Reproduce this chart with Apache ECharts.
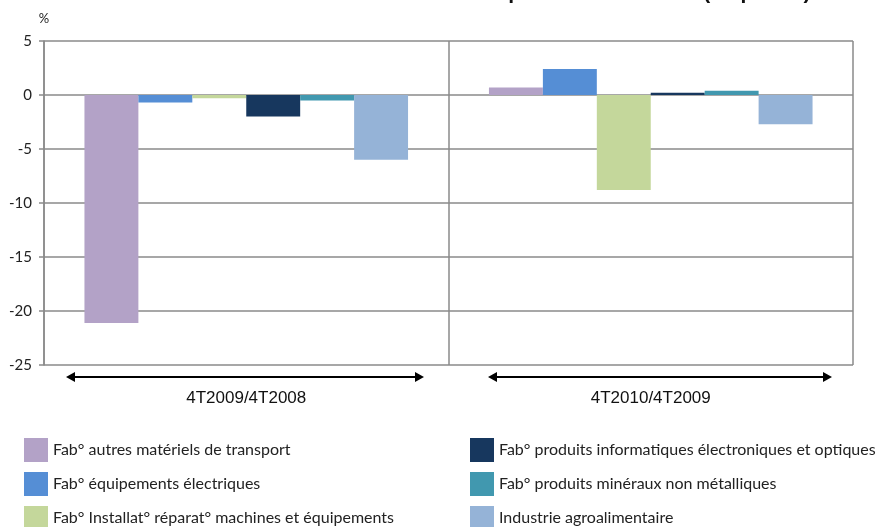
<!DOCTYPE html>
<html>
<head>
<meta charset="utf-8">
<script src="https://cdn.jsdelivr.net/npm/echarts@6/dist/echarts.min.js"></script>
<style>html,body{margin:0;padding:0;background:#fff}#c{width:881px;height:527px}</style>
</head>
<body>
<div id="c"></div>
<script>
const categories = ['4T2009/4T2008', '4T2010/4T2009'];
const seriesNames = [
  'Fab° autres matériels de transport',
  'Fab° équipements électriques',
  'Fab° Installat° réparat° machines et équipements',
  'Fab° produits informatiques électroniques et optiques',
  'Fab° produits minéraux non métalliques',
  'Industrie agroalimentaire'
];
const transport = [-21.1, 0.7];
const equipElec = [-0.7, 2.4];
const installat = [-0.3, -8.8];
const informatique = [-2.0, 0.2];
const mineraux = [-0.5, 0.4];
const agro = [-6.0, -2.7];
const colors = ['#B3A2C7', '#558ED5', '#C4D79B', '#17375E', '#4198AF', '#95B3D7'];
const yTicks = { min: -25, max: 5, interval: 5 };
const titleText = 'Évolution annuelle des effectifs au quatrième trimestre (en points)';

const seriesData = [transport, equipElec, installat, informatique, mineraux, agro];
const chart = echarts.init(document.getElementById('c'));
const legendText = { fontFamily: 'Lato', fontSize: 16, color: '#222' };
const legendPos = [[24, 438], [24, 472], [24, 506], [470, 438], [470, 472], [470, 506]];
chart.setOption({
  animation: false,
  title: {
    text: titleText, left: 150, top: -17, padding: 0,
    textStyle: { fontFamily: 'Liberation Sans', fontSize: 21, fontWeight: 'bold', color: '#111' }
  },
  grid: { left: 44, right: 28, top: 41, bottom: 162 },
  legend: seriesNames.map((n, i) => ({
    data: [n], orient: 'vertical', left: legendPos[i][0], top: legendPos[i][1], padding: 0,
    itemWidth: 24, itemHeight: 24, itemGap: 3, icon: 'rect', textStyle: legendText, selectedMode: false
  })),
  xAxis: {
    type: 'category', data: categories,
    axisLine: { show: false }, axisTick: { show: false },
    splitLine: { show: true, lineStyle: { color: '#8a8a8a', width: 1.5 } },
    axisLabel: { margin: 25, fontFamily: 'Liberation Sans', fontSize: 17, color: '#111' }
  },
  yAxis: {
    type: 'value', min: yTicks.min, max: yTicks.max, interval: yTicks.interval,
    name: '%', nameGap: 16, nameTextStyle: { fontFamily: 'Lato', fontSize: 13, color: '#222' },
    axisLine: { show: true, lineStyle: { color: '#8a8a8a', width: 1.5 } },
    axisTick: { show: true, length: 5, lineStyle: { color: '#8a8a8a', width: 1.5 } },
    splitLine: { show: true, lineStyle: { color: '#8a8a8a', width: 1.5 } },
    axisLabel: { margin: 12, fontFamily: 'Lato', fontSize: 15, color: '#222' }
  },
  graphic: [
    { type: 'line', shape: { x1: 72, y1: 377, x2: 418, y2: 377 }, style: { stroke: '#000', lineWidth: 2 } },
    { type: 'polygon', shape: { points: [[66, 377], [75, 372], [75, 382]] }, style: { fill: '#000' } },
    { type: 'polygon', shape: { points: [[424, 377], [415, 372], [415, 382]] }, style: { fill: '#000' } },
    { type: 'line', shape: { x1: 494, y1: 377, x2: 826, y2: 377 }, style: { stroke: '#000', lineWidth: 2 } },
    { type: 'polygon', shape: { points: [[488, 377], [497, 372], [497, 382]] }, style: { fill: '#000' } },
    { type: 'polygon', shape: { points: [[832, 377], [823, 372], [823, 382]] }, style: { fill: '#000' } }
  ],
  series: seriesNames.map((n, i) => ({
    name: n, type: 'bar', data: seriesData[i],
    barGap: '0%', barCategoryGap: '20%',
    itemStyle: { color: colors[i] }
  }))
});
</script>
</body>
</html>
